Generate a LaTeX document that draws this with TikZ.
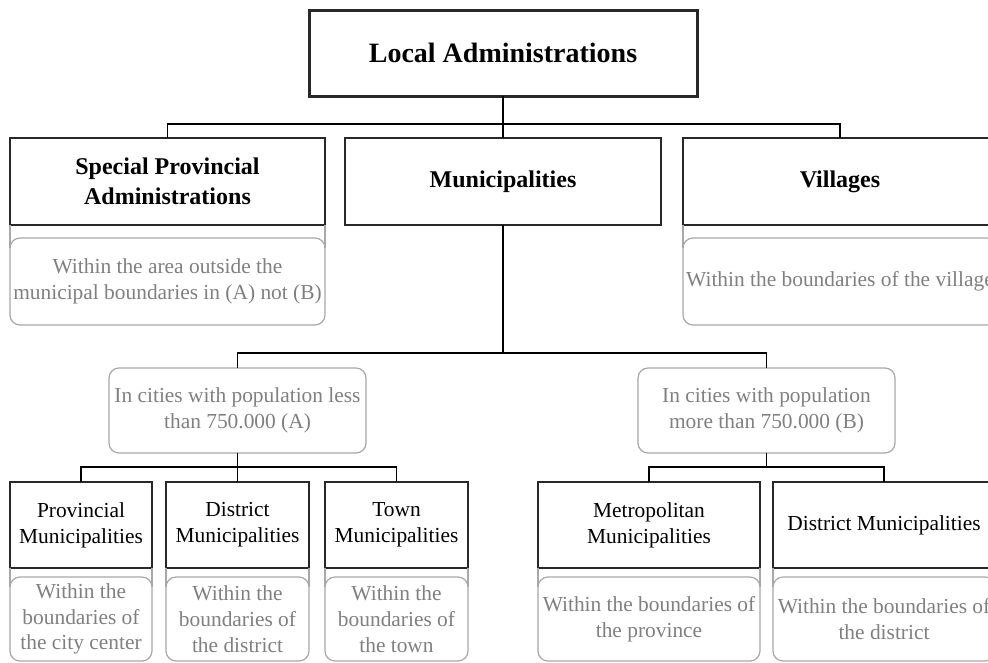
\documentclass[tikz,border=0pt]{standalone}
\usepackage{fontspec}
\setmainfont{Liberation Serif}
\definecolor{txtgray}{RGB}{128,128,128}
\definecolor{bordgray}{RGB}{168,168,168}
\definecolor{boxblack}{RGB}{40,40,40}
\tikzset{
  titlebox/.style={draw=boxblack, line width=3pt, inner sep=0pt, outer sep=0pt, align=center,
    font=\fontsize{28}{34}\selectfont\bfseries},
  catbox/.style={draw=boxblack, line width=2pt, inner sep=0pt, outer sep=0pt, align=center,
    minimum height=87pt, font=\fontsize{24}{30}\selectfont\bfseries},
  unitbox/.style={draw=boxblack, line width=1.6pt, inner sep=0pt, outer sep=0pt, align=center,
    minimum height=86pt, font=\fontsize{21.4}{25.7}\selectfont},
  notebox/.style={draw=bordgray, line width=1.2pt, rounded corners=10pt, inner sep=0pt, outer sep=0pt,
    align=center, text=txtgray, font=\fontsize{21.4}{25.7}\selectfont},
  conn/.style={draw=black, line width=1.6pt},
  sideline/.style={draw=bordgray, line width=1.2pt}
}
\begin{document}
\begin{tikzpicture}[x=1pt, y=-1pt]
\useasboundingbox (0,0) rectangle (988,662);
\clip (0,0) rectangle (988,662);
\fill[white] (0,0) rectangle (988,662);
% level 0
\node[titlebox, minimum width=388pt, minimum height=86pt] (top) at (503,53) {Local Administrations};
% level 1
\node[catbox, minimum width=315pt] (spa) at (167.5,181.5) {Special Provincial\\Administrations};
\node[catbox, minimum width=316pt] (mun) at (503,181.5) {Municipalities};
\node[catbox, minimum width=314pt] (vil) at (840,181.5) {Villages};
% notes level 1
\node[notebox, minimum width=315pt, minimum height=87pt] (spaG) at (167.5,281.5) {Within the area outside the\\municipal boundaries in (A) not (B)};
\node[notebox, minimum width=314pt, minimum height=87pt] (vilG) at (840,281.5) {Within the boundaries of the village};
% population groups
\node[notebox, minimum width=257pt, minimum height=85pt] (grpA) at (237.5,410.5) {In cities with population less\\than 750.000 (A)};
\node[notebox, minimum width=257pt, minimum height=85pt] (grpB) at (766.5,410.5) {In cities with population\\more than 750.000 (B)};
% level 3
\node[unitbox, minimum width=142pt] (prov) at (81,525) {Provincial\\Municipalities};
\node[unitbox, minimum width=143pt] (dist) at (237.5,525) {District\\Municipalities};
\node[unitbox, minimum width=143pt] (town) at (396.5,525) {Town\\Municipalities};
\node[unitbox, minimum width=222pt] (metro) at (649,525) {Metropolitan\\Municipalities};
\node[unitbox, minimum width=222pt] (distB) at (884,525) {District Municipalities};
% notes level 3
\node[notebox, minimum width=142pt, minimum height=84pt] (provG) at (81,619) {Within the\\boundaries of\\the city center};
\node[notebox, minimum width=143pt, minimum height=84pt] (distG) at (237.5,619) {Within the\\boundaries of\\the district};
\node[notebox, minimum width=143pt, minimum height=84pt] (townG) at (396.5,619) {Within the\\boundaries of\\the town};
\node[notebox, minimum width=222pt, minimum height=84pt] (metroG) at (649,619) {Within the boundaries of\\the province};
\node[notebox, minimum width=222pt, minimum height=84pt] (distBG) at (884,619) {Within the boundaries of\\the district};
% side lines joining boxes to notes
\foreach \b in {spa,vil,prov,dist,town,metro,distB}{
  \draw[sideline] (\b.south west) -- ([yshift=-10pt]\b G.north west);
  \draw[sideline] (\b.south east) -- ([yshift=-10pt]\b G.north east);
}
% connectors
\draw[conn] (top.south) -- ++(0,28) coordinate (b1);
\draw[conn] (spa.north) |- (b1) -| (vil.north);
\draw[conn] (b1) -- (mun.north);
\draw[conn] (mun.south) -- ++(0,128) coordinate (b2);
\draw[conn] (grpA.north) |- (b2) -| (grpB.north);
\draw[conn] (grpA.south) -- ++(0,14) coordinate (b3);
\draw[conn] (prov.north) |- (b3) -| (town.north);
\draw[conn] (b3) -- (dist.north);
\draw[conn] (grpB.south) -- ++(0,14) coordinate (b4);
\draw[conn] (metro.north) |- (b4) -| (distB.north);
\end{tikzpicture}
\end{document}
